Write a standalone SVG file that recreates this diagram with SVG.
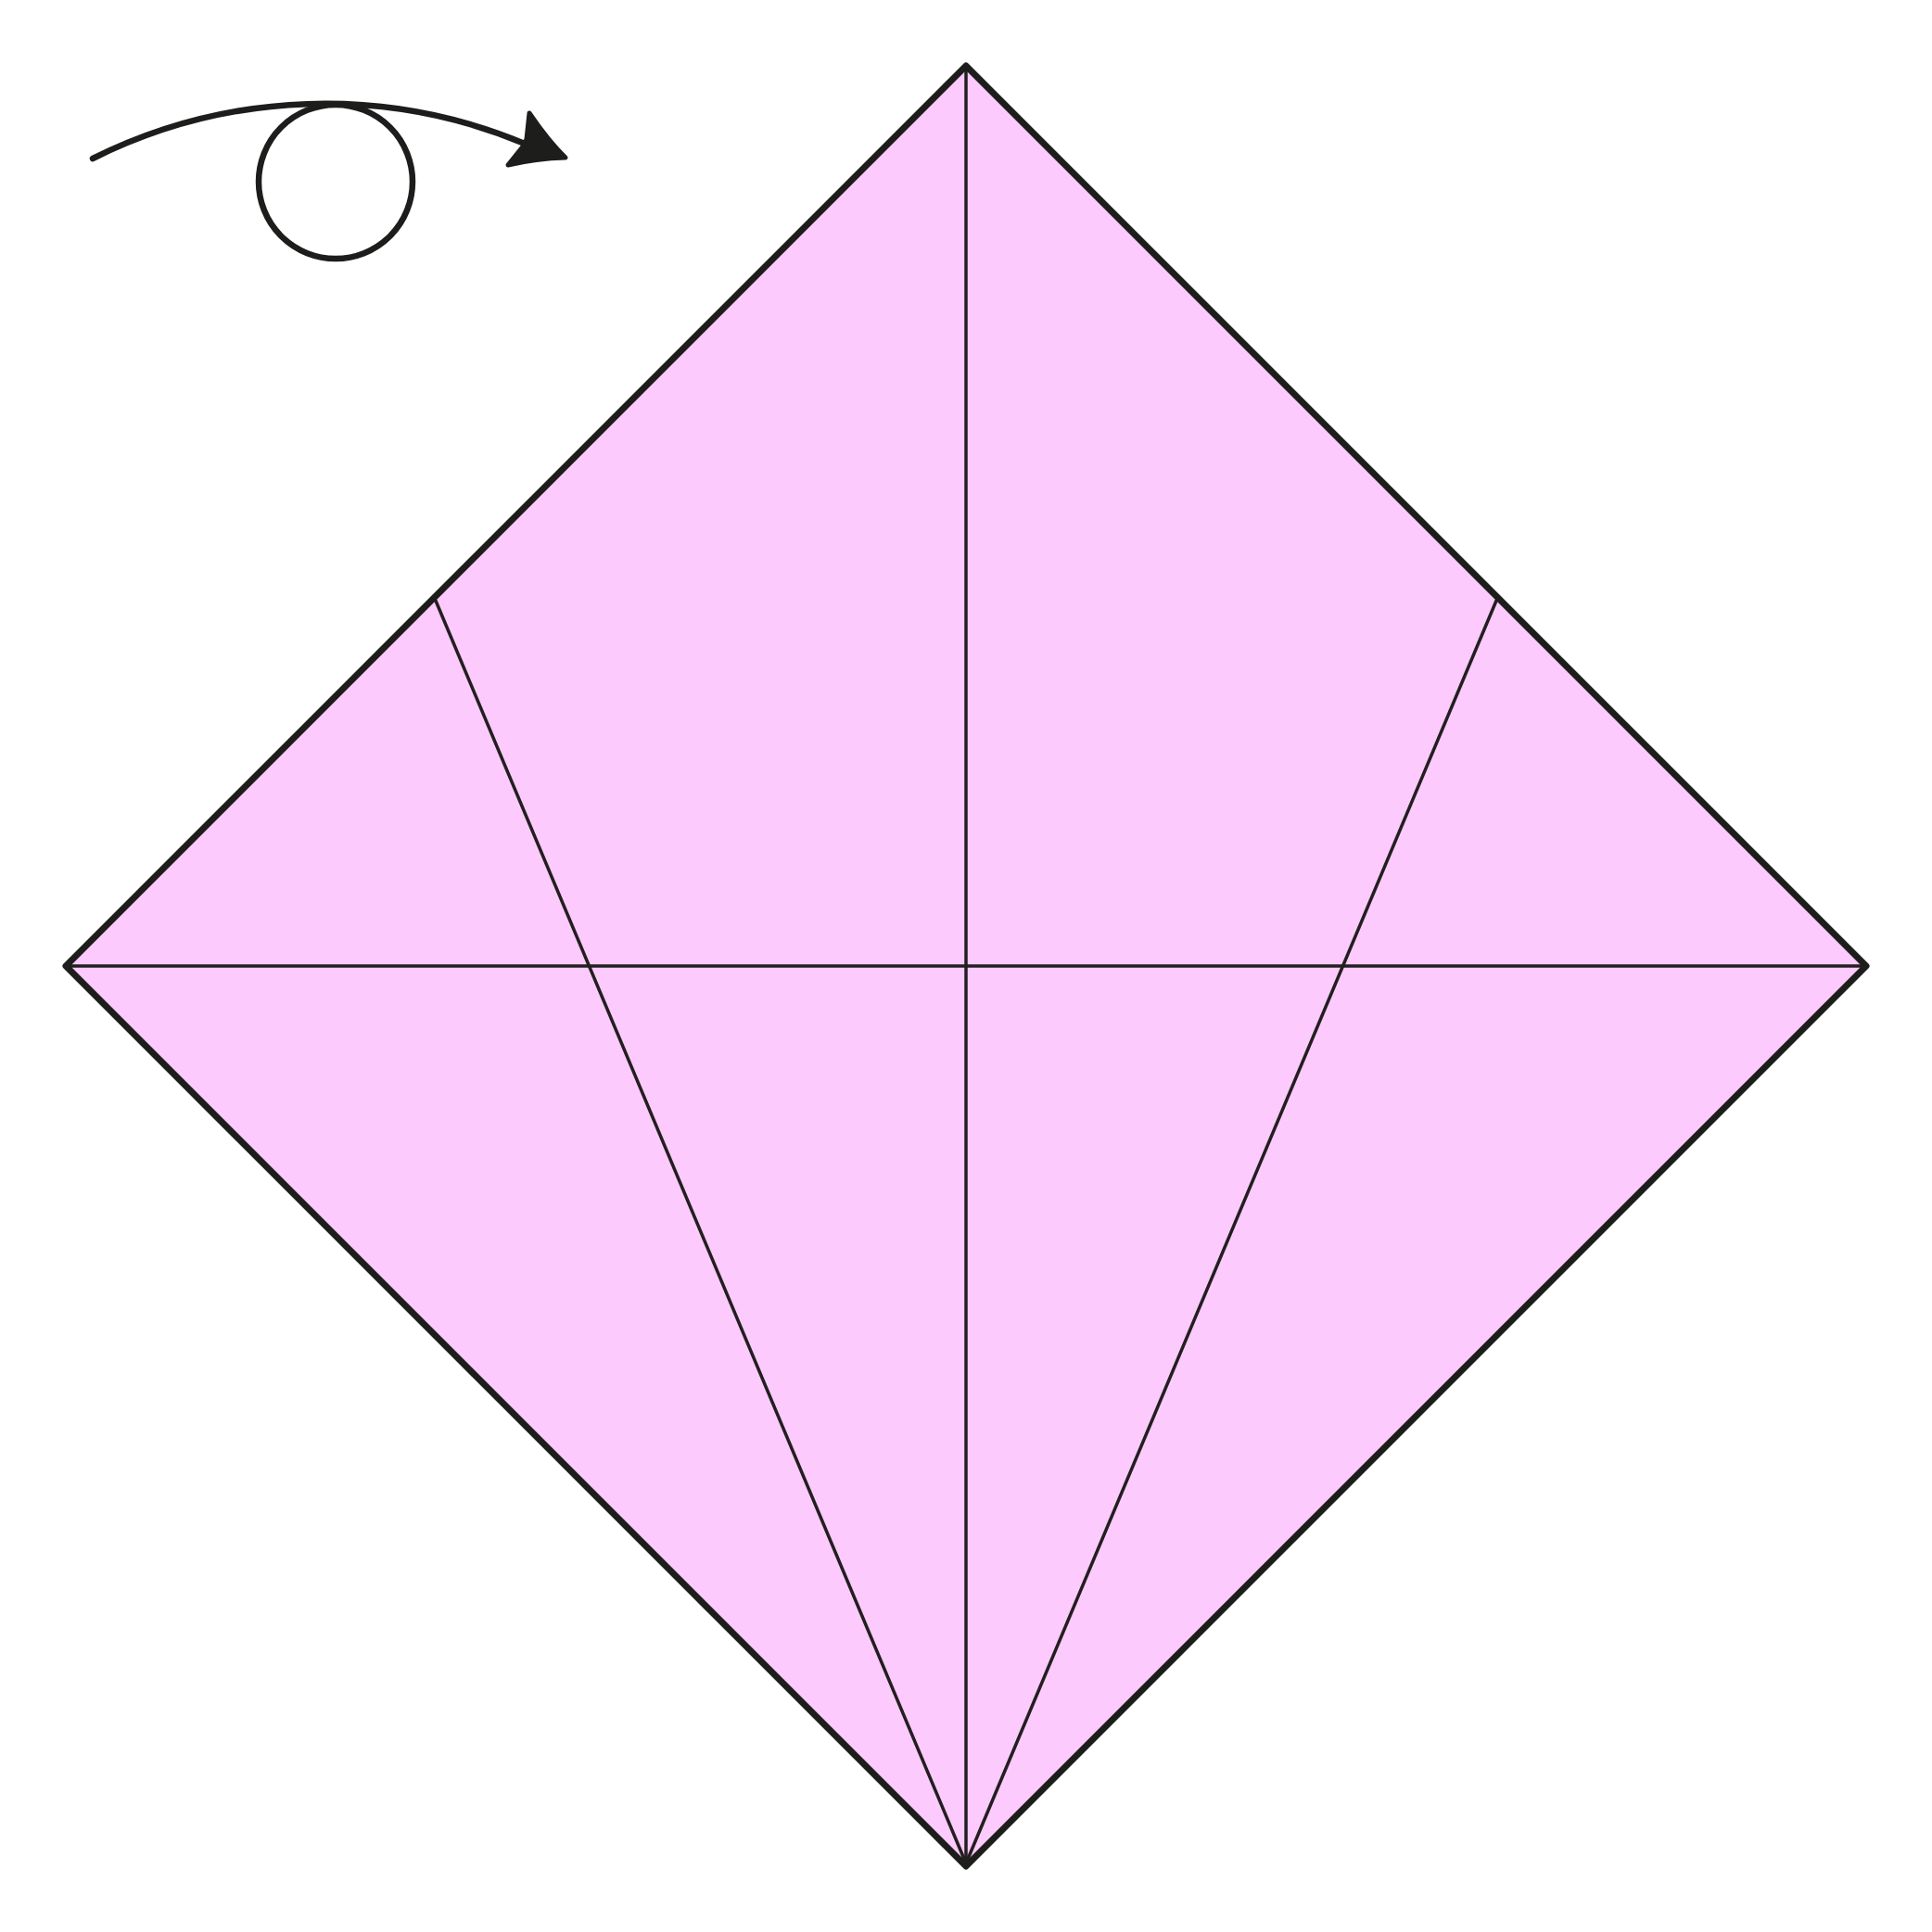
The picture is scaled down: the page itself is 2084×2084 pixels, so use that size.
<svg xmlns="http://www.w3.org/2000/svg" width="2084" height="2084" viewBox="0 0 2084 2084">
<style>
.paper{fill:none;stroke:#1d1d1b;stroke-width:7;stroke-linejoin:round}
.crease{fill:none;stroke:#231f20;stroke-width:3.5;stroke-linecap:round}
.sym{fill:none;stroke:#1d1d1b;stroke-width:6.5;stroke-linecap:round}
.head{fill:#1d1d1b;stroke:#1d1d1b;stroke-width:5;stroke-linejoin:round}
</style>
<rect width="2084" height="2084" fill="#ffffff"/>
<g id="paper-fill">
<polygon points="1042,71 2013,1042 1042,2013 71,1042" fill="#fdcafd"/>
</g>
<g id="creases">
<line class="crease" x1="1042" y1="74" x2="1042" y2="2010"/>
<line class="crease" x1="76" y1="1042" x2="2008" y2="1042"/>
<line class="crease" x1="470" y1="648" x2="1042" y2="2010"/>
<line class="crease" x1="1614" y1="648" x2="1042" y2="2010"/>
</g>
<g id="paper-outline">
<polygon class="paper" points="1042,71 2013,1042 1042,2013 71,1042"/>
</g>
<g id="turn-over-symbol">
<circle class="sym" cx="362" cy="196" r="83"/>
<path class="sym" d="M100,171 A560,560 0 0 1 566,155"/>
<path class="head" d="M571,122 Q592,153 610,170 Q578,171 548,178 L564,158 L568,150 Z"/>
</g>
</svg>
